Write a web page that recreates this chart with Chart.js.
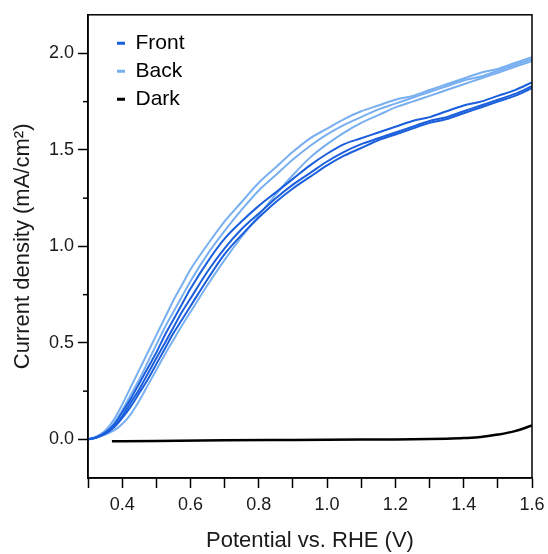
<!DOCTYPE html>
<html>
<head>
<meta charset="utf-8">
<script src="https://cdn.jsdelivr.net/npm/chart.js@4/dist/chart.umd.min.js"></script>
<style>
  body { margin: 0; background: #fff; }
  #wrap { width: 548px; height: 554px; }
</style>
</head>
<body>
<div id="wrap"><canvas id="jv" width="548" height="554"></canvas></div>
<script>
// potential grid (V vs RHE) shared by the light scans
const potential = [0.300, 0.325, 0.350, 0.375, 0.400, 0.425, 0.450, 0.475, 0.500, 0.525, 0.550, 0.575, 0.600,
                   0.65, 0.70, 0.75, 0.80, 0.85, 0.90, 0.95, 1.00, 1.05, 1.10, 1.15, 1.20, 1.25,
                   1.30, 1.35, 1.40, 1.45, 1.50, 1.55, 1.60];

// front illumination scans (mA/cm2)
const front1 = [0.00, 0.012, 0.035, 0.075, 0.14, 0.21, 0.29, 0.37, 0.45, 0.54, 0.62, 0.70, 0.78,
                0.92, 1.04, 1.13, 1.21, 1.28, 1.35, 1.42, 1.48, 1.53, 1.56, 1.59, 1.62, 1.65,
                1.67, 1.70, 1.73, 1.75, 1.78, 1.81, 1.85];
const front2 = [0.00, 0.010, 0.030, 0.065, 0.12, 0.19, 0.26, 0.34, 0.42, 0.50, 0.58, 0.66, 0.73,
                0.87, 0.99, 1.09, 1.17, 1.25, 1.32, 1.38, 1.44, 1.49, 1.53, 1.56, 1.59, 1.62,
                1.65, 1.67, 1.70, 1.73, 1.76, 1.79, 1.83];
const front3 = [0.00, 0.010, 0.028, 0.060, 0.11, 0.17, 0.24, 0.31, 0.39, 0.47, 0.55, 0.62, 0.69,
                0.83, 0.96, 1.06, 1.15, 1.23, 1.30, 1.36, 1.42, 1.47, 1.51, 1.55, 1.58, 1.61,
                1.64, 1.66, 1.69, 1.72, 1.75, 1.78, 1.82];

// back illumination scans (mA/cm2)
const back1 = [0.00, 0.015, 0.045, 0.10, 0.18, 0.27, 0.36, 0.45, 0.54, 0.63, 0.72, 0.80, 0.88,
               1.01, 1.13, 1.23, 1.33, 1.41, 1.49, 1.56, 1.61, 1.66, 1.70, 1.73, 1.76, 1.78,
               1.81, 1.84, 1.87, 1.90, 1.92, 1.95, 1.98];
const back2 = [0.00, 0.012, 0.035, 0.08, 0.15, 0.23, 0.31, 0.40, 0.49, 0.58, 0.66, 0.74, 0.82,
               0.96, 1.08, 1.19, 1.29, 1.37, 1.45, 1.52, 1.58, 1.63, 1.67, 1.71, 1.74, 1.77,
               1.80, 1.83, 1.86, 1.88, 1.91, 1.94, 1.97];
const back3 = [0.00, 0.010, 0.025, 0.045, 0.08, 0.13, 0.20, 0.28, 0.36, 0.44, 0.515, 0.59, 0.66,
               0.80, 0.93, 1.05, 1.16, 1.27, 1.37, 1.46, 1.53, 1.59, 1.64, 1.68, 1.72, 1.75,
               1.78, 1.81, 1.84, 1.87, 1.90, 1.93, 1.96];

// dark scan
const darkV = [0.37, 0.50, 0.70, 0.90, 1.10, 1.20, 1.30, 1.35, 1.40, 1.45, 1.50, 1.55, 1.60];
const darkJ = [-0.010, -0.008, -0.005, -0.003, -0.001, 0.000, 0.002, 0.004, 0.007, 0.012, 0.025, 0.043, 0.072];

const xTicks = [0.4, 0.6, 0.8, 1.0, 1.2, 1.4, 1.6];
const yTicks = [0.0, 0.5, 1.0, 1.5, 2.0];

const frontColor = '#1b5fdc';
const backColor = '#78aff0';
const darkColor = '#000000';
const fontFamily = '"Liberation Sans", Arial, sans-serif';

function pairs(xs, ys) {
    return xs.map((x, i) => ({ x: x, y: ys[i] }));
}

function scan(label, xs, ys, color, width) {
    return {
        label: label,
        data: pairs(xs, ys),
        borderColor: color,
        backgroundColor: color,
        borderWidth: width,
        pointRadius: 0,
        cubicInterpolationMode: 'monotone',
        fill: false
    };
}

const datasets = [
    scan('Front', potential, front1, frontColor, 2),
    scan('Front', potential, front2, frontColor, 2),
    scan('Front', potential, front3, frontColor, 2),
    scan('Back', potential, back1, backColor, 2),
    scan('Back', potential, back2, backColor, 2),
    scan('Back', potential, back3, backColor, 2),
    scan('Dark', darkV, darkJ, darkColor, 2.5)
];
const legendIdx = [0, 3, 6];

// box frame + short minor ticks on y, legend moved inside the plot
const framePlugin = {
    id: 'frame',
    afterLayout(chart) {
        const lg = chart.legend, a = chart.chartArea;
        if (!lg) return;
        const w = lg.width, h = lg.height;
        lg.left = a.left + 22; lg.top = a.top + 11;
        lg.right = lg.left + w; lg.bottom = lg.top + h;
    },
    afterDraw(chart) {
        const ctx = chart.ctx, a = chart.chartArea, ys = chart.scales.y;
        ctx.save();
        ctx.strokeStyle = '#000';
        ctx.lineWidth = 1.5;
        ctx.strokeRect(a.left, a.top, a.right - a.left, a.bottom - a.top);
        for (let v = -0.25; v <= 2.25; v += 0.5) {
            const p = ys.getPixelForValue(v);
            if (p < a.top || p > a.bottom) continue;
            ctx.beginPath();
            ctx.moveTo(a.left - 5, p);
            ctx.lineTo(a.left, p);
            ctx.stroke();
        }
        ctx.restore();
    }
};

new Chart(document.getElementById('jv').getContext('2d'), {
    type: 'line',
    data: { datasets: datasets },
    options: {
        responsive: false,
        animation: false,
        layout: { padding: { top: 12, right: 16, left: 0, bottom: 0 } },
        scales: {
            x: {
                type: 'linear',
                min: 0.3,
                max: 1.6,
                afterFit: s => { s.height = 76; s.paddingLeft = 0; s.paddingRight = 0; },
                afterBuildTicks: s => {
                    const t = [];
                    for (let i = 3; i <= 16; i++) t.push({ value: i / 10 });
                    s.ticks = t;
                },
                ticks: {
                    autoSkip: false,
                    maxRotation: 0,
                    padding: 6,
                    color: '#1a1a1a',
                    font: { family: fontFamily, size: 18 },
                    callback: v => xTicks.some(t => Math.abs(t - v) < 1e-6) ? v.toFixed(1) : ''
                },
                grid: { drawOnChartArea: false, tickLength: 10, tickWidth: 1.5, tickColor: '#000' },
                border: { color: '#000', width: 1.5 },
                title: {
                    display: true,
                    text: 'Potential vs. RHE (V)',
                    color: '#1a1a1a',
                    font: { family: fontFamily, size: 22 },
                    padding: { top: 12, bottom: 0 }
                }
            },
            y: {
                min: -0.2,
                max: 2.2,
                afterFit: s => { s.width = 88; },
                afterBuildTicks: s => {
                    s.ticks = yTicks.map(v => ({ value: v }));
                },
                ticks: {
                    padding: 4,
                    color: '#1a1a1a',
                    font: { family: fontFamily, size: 18 },
                    callback: v => v.toFixed(1)
                },
                grid: { drawOnChartArea: false, tickLength: 10, tickWidth: 1.5, tickColor: '#000' },
                border: { color: '#000', width: 1.5 },
                title: {
                    display: true,
                    text: 'Current density (mA/cm²)',
                    color: '#1a1a1a',
                    font: { family: fontFamily, size: 22 },
                    padding: { top: 10, bottom: 0 }
                }
            }
        },
        plugins: {
            legend: {
                position: 'chartArea',
                align: 'start',
                labels: {
                    boxWidth: 8,
                    boxHeight: 3,
                    padding: 7,
                    color: '#000',
                    font: { family: fontFamily, size: 21 },
                    generateLabels: chart => {
                        const items = Chart.defaults.plugins.legend.labels.generateLabels(chart);
                        return items.filter(it => legendIdx.includes(it.datasetIndex))
                                    .map(it => Object.assign(it, { lineWidth: 0 }));
                    }
                }
            },
            tooltip: { enabled: false }
        }
    },
    plugins: [framePlugin]
});
</script>
</body>
</html>
